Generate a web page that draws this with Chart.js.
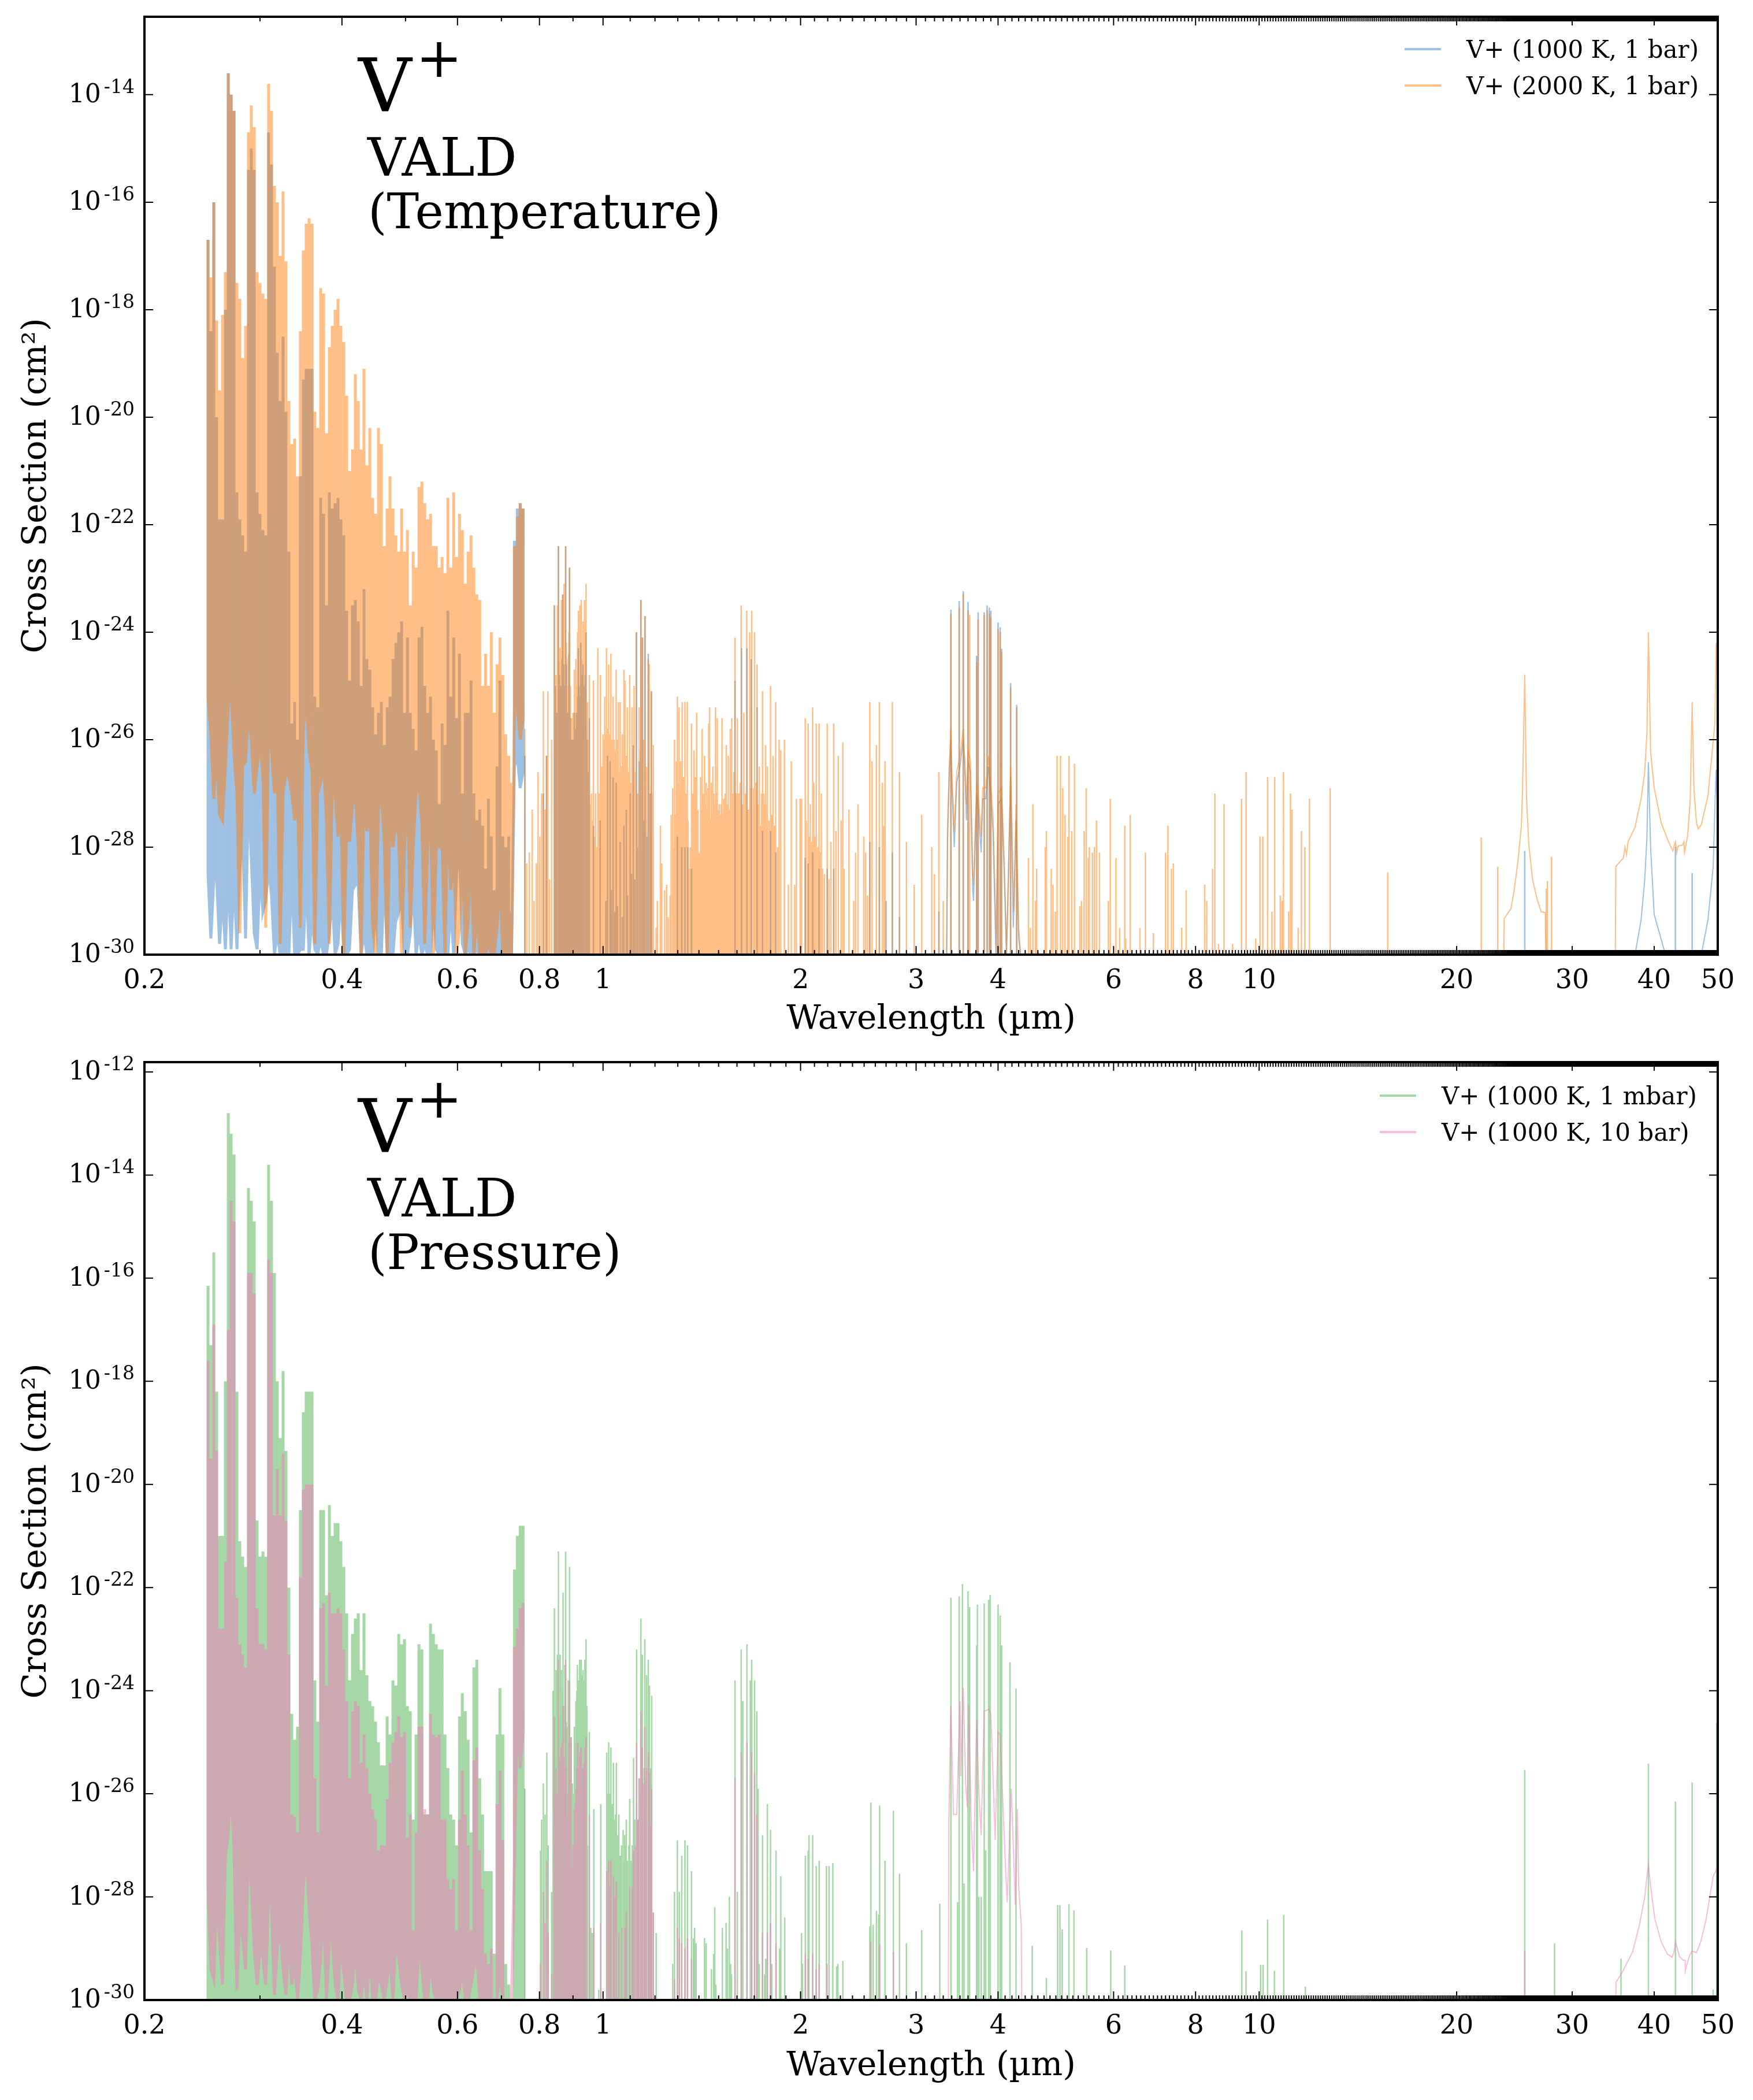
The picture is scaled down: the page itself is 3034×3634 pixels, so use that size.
<!DOCTYPE html>
<html>
<head>
<meta charset="utf-8">
<title>V+ cross sections</title>
<script src="https://cdn.jsdelivr.net/npm/chart.js@4"></script>
<style>
  body { margin: 0; background: #fff; }
  canvas { position: absolute; left: 0; }
  #temperature-chart { top: 0; }
  #pressure-chart { top: 1809px; }
</style>
</head>
<body>
<canvas id="temperature-chart" width="3034" height="1800"></canvas>
<canvas id="pressure-chart" width="3034" height="1825"></canvas>
<script>
// Axis ticks
const xTickLabels = [0.2, 0.4, 0.6, 0.8, 1, 2, 3, 4, 6, 8, 10, 20, 30, 40, 50];
const yTopExponents = [-14, -16, -18, -20, -22, -24, -26, -28, -30];
const yBottomExponents = [-12, -14, -16, -18, -20, -22, -24, -26, -28, -30];

// All cross sections are stored as log10(cm^2)
const FLOOR = -30;

// Crowded UV/optical band: shared wavelengths (um), one column per entry
const bandWl = [
  .25,.2525,.2551,.2577,.2603,.263,.2657,.2684,.2711,.2739,
  .2767,.2795,.2823,.2852,.2881,.291,.294,.297,.3,.3031,
  .3061,.3092,.3124,.3156,.3188,.322,.3253,.3286,.332,.3354,
  .3388,.3422,.3457,.3493,.3528,.3564,.3601,.3637,.3674,.3712,
  .375,.3788,.3827,.3866,.3905,.3945,.3985,.4026,.4067,.4108,
  .415,.4192,.4235,.4278,.4322,.4366,.4411,.4456,.4501,.4547,
  .4593,.464,.4688,.4735,.4784,.4833,.4882,.4932,.4982,.5033,
  .5084,.5136,.5188,.5241,.5295,.5349,.5403,.5458,.5514,.557,
  .5627,.5685,.5743,.5801,.586,.592,.5981,.6042,.6103,.6166,
  .6228,.6292,.6356,.6421,.6487,.6553,.662,.6687,.6755,.6824,
  .6894,.6964,.7035,.7107,.718,.7253,.7327,.7402,.7477,.7553
];
const t2000BandPeak = [
  -16.7,-17.4,-16,-18.2,-19.5,-18.1,-17.3,-13.6,-14,-14.3,
  -17.5,-17.8,-18.9,-18.3,-14.7,-14.2,-14.6,-17.3,-17.5,-17.7,
  -17.8,-13.8,-14.3,-15.7,-16,-17,-15.8,-17.1,-19.7,-20.5,
  -20.4,-21.1,-18.4,-16.9,-16.4,-16.3,-16.4,-19.9,-20.2,-17.6,
  -17.7,-20.3,-18.7,-18.3,-18,-17.8,-18.3,-18.6,-19.6,-21,
  -20.6,-19.2,-19.7,-20.6,-19.1,-20.9,-20.2,-21.5,-21.8,-20.2,
  -20.5,-22.4,-21.7,-21.1,-21.7,-22.2,-22.5,-21.7,-22.5,-22.1,
  -23.5,-22.5,-22.8,-21.3,-21.2,-21.6,-21.9,-21.8,-22.4,-22.4,
  -22.8,-22.6,-22.9,-21.5,-22.8,-21.4,-22.6,-21.8,-22.1,-23.1,
  -22.5,-22.2,-22.8,-23.3,-23.4,-25,-24.4,-25,-24,-25.5,
  -24.6,-24.1,-24.8,-25.9,-26.3,-26.8,-22.4,-21.85,-21.6,-21.7
];
const t2000BandBase = [
  -25.2,-25.9,-27.1,-26.2,-27.4,-27.5,-26.5,-25.4,-25,-26.3,
  -27,-29.6,-26.5,-26.4,-25.5,-26,-27,-26.5,-26,-26.7,
  -29.5,-25.8,-26.2,-27,-26.6,-29.8,-27,-26.6,-26.7,-27,
  -27.5,-27,-29.5,-25.8,-25.2,-26.2,-26.6,-29.8,-27,-26.8,
  -26.4,-27.5,-29.8,-26.8,-27,-27.8,-27.2,-30,-27.6,-27.9,
  -27.2,-27,-28,-30,-27.1,-27.7,-27.2,-29.5,-30,-27.3,
  -27,-27.9,-30,-27.5,-28,-27.5,-27.8,-30,-28,-26.9,
  -29.5,-28,-27,-26.8,-27.6,-29.8,-28,-27.4,-30,-28,
  -28,-28,-30,-27.2,-28.8,-28,-30,-29.5,-28,-30,
  -29.4,-28,-30,-29.2,-30,-30,-30,-29.8,-30,-30,
  -29.5,-28.6,-30,-30,-30,-30,-25.3,-25.4,-26,-25.6
];
const t1000BandPeak = [
  -16.7,-18.4,-16,-20,-21.9,-21.9,-18,-13.6,-14,-14.3,
  -21.4,-21.9,-22.2,-22.5,-15.4,-15,-15.4,-21.4,-21.8,-22.1,
  -22.2,-14.7,-15.3,-17.2,-18.8,-19.7,-18.5,-19.9,-22.5,-25.7,
  -25.3,-26,-21.1,-19.3,-19.1,-19.1,-19.1,-25.2,-25.4,-21.5,
  -21.8,-23.5,-21.4,-21.7,-21.6,-21.5,-21.9,-22.2,-23.6,-24.9,
  -23.5,-23.4,-23.8,-25,-23.2,-24.5,-24.7,-25.4,-25.9,-25.5,
  -25.3,-26.1,-25.4,-25.2,-24.5,-24.2,-24,-23.8,-25.5,-24.1,
  -25.5,-25.8,-26.2,-24.1,-23.9,-25,-25.5,-25.2,-26,-26.2,
  -27.2,-25.7,-26.1,-23.6,-25.2,-24.1,-25.6,-24.4,-27,-25.5,
  -25.5,-24.9,-27,-27.5,-27.3,-27.6,-28.4,-27.1,-27.8,-28.8,
  -26.5,-24.9,-27.8,-28,-27.8,-29.2,-22.3,-21.7,-21.6,-21.7
];
const t1000BandBase = [
  -28.5,-29.7,-28.6,-28.6,-29.8,-28.9,-29.9,-28.5,-29.9,-28.5,
  -29.9,-28.4,-27.6,-29.7,-27,-28.2,-29.6,-29.9,-28.5,-29.2,
  -29,-28.4,-28.9,-30,-29.6,-30,-30,-30,-30,-28.5,
  -30,-30,-29.9,-29.9,-28.6,-30,-29.3,-29.9,-30,-29.7,
  -30,-30,-29.6,-28.9,-30,-29.8,-28.8,-30,-30,-29.9,
  -28.8,-28.7,-28.7,-30,-29.6,-30,-30,-30,-29,-30,
  -30,-28.5,-30,-30,-30,-29.3,-29.2,-29,-30,-30,
  -29.6,-28.7,-30,-29.6,-30,-29.8,-30,-30,-29,-29.9,
  -30,-30,-30,-30,-29.1,-30,-28.5,-28,-29.8,-30,
  -29.9,-30,-30,-29.9,-30,-30,-30,-30,-30,-30,
  -30,-30,-30,-30,-30,-30,-26.5,-26.3,-26.9,-26.6
];
const mbarBandPeak = [
  -16.15,-17.3,-15.5,-18.2,-21,-21,-18,-12.8,-13.2,-13.6,
  -18.2,-21.1,-21.4,-21.6,-14.25,-14.5,-14.9,-20.7,-21.4,-21.3,
  -21.4,-13.8,-14.5,-15.9,-18,-19.1,-17.8,-19.35,-22,-24.45,
  -24.95,-24.7,-20.5,-18.6,-18.2,-18.2,-18.2,-23.8,-24.6,-20.5,
  -20.5,-22.15,-20.4,-21,-20.75,-20.75,-21.1,-21.6,-22.5,-23.8,
  -22.9,-22.6,-22.5,-23.6,-22.5,-23.7,-24.2,-24.3,-24.6,-25,
  -25.45,-25.45,-24.5,-24.85,-23.8,-23.9,-22.9,-23.1,-23,-24.3,
  -24.4,-26.5,-24.85,-23.1,-23.2,-26.4,-26.4,-22.7,-22.9,-23.1,
  -23.2,-23.2,-24.85,-25.5,-26.4,-26.5,-27,-24.5,-24.05,-24.4,
  -24.95,-26.75,-23.55,-23.4,-25.7,-26.4,-27.5,-27.5,-27.5,-29.1,
  -24.85,-23.95,-24.85,-29.3,-29.7,-30,-21.65,-21,-20.8,-20.8
];
const tenBarBandPeak = [
  -17.6,-19.5,-16.9,-19.35,-22.8,-22.8,-21.5,-17,-14.5,-14.9,
  -22.2,-23.1,-23.3,-23.55,-15.9,-15.9,-16.3,-22.4,-23.1,-23.1,
  -23.2,-15.65,-15.9,-20.6,-19.7,-20.6,-19.4,-20.7,-23.3,-26.4,
  -26.45,-26.75,-21.8,-20.1,-20,-20,-20,-25.7,-26.75,-22.4,
  -22.3,-23.9,-22.1,-22.5,-22.5,-22.4,-22.5,-23.2,-24.2,-25.7,
  -24.4,-24.2,-24.3,-25.4,-24.85,-25.5,-26,-26.3,-26.5,-27.1,
  -27,-27,-26.1,-25.4,-25,-24.8,-24.5,-24.9,-24.8,-26.85,
  -26.4,-28.65,-26.75,-24.7,-24.7,-26.3,-26.4,-24.45,-24.85,-24.9,
  -24.85,-26.5,-26.5,-27.65,-27.85,-27.65,-28.65,-26.5,-25.55,-26.4,
  -27,-28.65,-25.35,-25.1,-27.1,-27.85,-29.1,-29.3,-29,-30,
  -26.2,-25.55,-26.9,-30,-30,-30,-23.15,-22.8,-22.4,-22.3
];
const tenBarBandBase = [
  -27.8,-29.4,-29.6,-28,-28.8,-29.7,-27.2,-26.8,-25.8,-27.2,
  -29.8,-28.4,-28.8,-29.4,-27,-27.8,-29,-29.7,-29,-29.2,
  -29.7,-28,-28.2,-29.9,-29,-28.6,-29.4,-29.9,-28.8,-29.7,
  -29.2,-30,-29.2,-27.8,-27.2,-28.2,-29,-30,-29.8,-29.2,
  -28.2,-30,-28.9,-28.8,-29.7,-30,-28.8,-29.5,-30,-30,
  -29.7,-29,-29.8,-30,-29.4,-30,-29,-30,-30,-29.5,
  -29.7,-30,-29.6,-29.2,-30,-28.8,-29.2,-29.7,-30,-29.8,
  -30,-30,-30,-28.9,-29.4,-30,-30,-29.2,-29.8,-30,
  -30,-30,-30,-30,-30,-30,-30,-29.8,-29.4,-30,
  -30,-29.7,-29.4,-29.1,-30,-30,-30,-30,-30,-30,
  -30,-29.4,-30,-30,-30,-30,-27.3,-24.4,-25.5,-24.8
];

// Resolved lines beyond the crowded band
const t2000LineWl = [
  .76,.765,.772,.78,.785,.791,.796,.801,.806,.811,.816,.82,.824,.829,.835,.843,.848,.852,.855,.86,
  .864,.868,.872,.877,.881,.885,.889,.894,.898,.904,.909,.914,.917,.922,.926,.932,.937,.942,.947,.953,
  .96,.967,.974,.982,.991,1.006,1.012,1.02,1.028,1.036,1.047,1.055,1.062,1.07,1.076,1.08,1.089,1.098,1.107,1.115,
  1.123,1.135,1.142,1.147,1.158,1.165,1.172,1.176,1.185,1.193,1.205,1.21,1.223,1.229,1.241,1.25,1.257,1.265,1.27,1.277,
  1.285,1.293,1.298,1.306,1.313,1.32,1.333,1.344,1.351,1.364,1.376,1.389,1.402,1.408,1.416,1.428,1.436,1.449,1.453,1.462,
  1.47,1.484,1.493,1.504,1.518,1.527,1.541,1.552,1.563,1.571,1.589,1.602,1.624,1.639,1.656,1.673,1.685,1.702,1.717,1.73,
  1.75,1.769,1.78,1.8,1.816,1.833,1.855,1.866,1.89,1.916,1.936,1.959,1.971,1.997,2.007,2.033,2.054,2.069,2.087,2.095,
  2.113,2.134,2.151,2.196,2.247,2.264,2.283,2.306,2.32,2.33,2.37,2.41,2.426,2.447,2.497,2.513,2.53,2.55,2.57,2.61,
  2.637,2.665,2.68,2.69,2.76,2.83,2.9,2.98,3.06,3.17,3.2,3.25,3.3,3.39,3.49,3.54,3.6,3.62,3.71,3.73,
  3.81,3.85,3.88,3.9,4,4.03,4.05,4.18,4.27,4.45,4.48,4.52,4.56,4.58,4.72,4.74,4.82,4.85,4.89,4.92,
  4.98,5.02,5.06,5.11,5.13,5.18,5.23,5.33,5.36,5.41,5.45,5.49,5.51,5.57,5.61,5.65,5.71,5.89,5.93,6.05,
  6.13,6.24,6.26,6.36,6.58,6.71,6.9,7.2,7.26,7.35,7.4,7.62,7.74,8.26,8.32,8.49,8.56,8.67,8.84,9.11,
  9.4,9.55,9.88,10.03,10.13,10.3,10.46,10.56,10.77,10.84,10.89,11.09,11.16,11.22,11.47,11.6,11.74,11.93,12.83,15.7,
  21.8,23.1,27.4,27.5,27.9
];
const t2000LinePeak = [
  -25.8,-28.3,-28.1,-27.3,-29,-28.3,-26.6,-27.8,-27,-25.1,-27.3,-26.3,-25.1,-28.6,-26,-23.5,-24.8,-23.5,-22.4,-24.3,
  -23.4,-23.3,-23.1,-22.4,-24.5,-25,-22.8,-26.1,-25.9,-24.7,-24.5,-24,-23.6,-23.5,-23.4,-23.8,-23.4,-23.1,-25.3,-24.8,
  -27,-24.9,-27,-24.3,-24.8,-25.2,-24.3,-24.6,-24.4,-25.2,-24.7,-25.3,-25.3,-25.9,-24.7,-24.9,-25.4,-24.8,-25.4,-25,
  -24,-25.4,-23.4,-24.1,-23.7,-26.5,-24.5,-24.6,-25.1,-26.1,-29.5,-29,-27.6,-28.3,-28.8,-28.7,-29.3,-28.9,-27.4,-26.9,
  -26,-26.4,-25.2,-25.4,-26.4,-25.3,-25.3,-25.3,-28.4,-25.7,-26.2,-25.5,-28.1,-26.7,-25.8,-26.3,-26.8,-25.7,-25.4,-26.8,
  -26.5,-25.4,-25.6,-27.2,-25.6,-27.1,-26.1,-26.3,-25.8,-25.6,-24.1,-25.6,-23.5,-25.5,-23.6,-24,-23.6,-24,-24.6,-26.5,
  -25.1,-26.1,-26.5,-25,-26.3,-25.3,-26,-26.2,-26,-28.7,-26.4,-28.7,-27.1,-27.1,-27.1,-25.6,-25.7,-27.2,-25.4,-26.8,
  -25.7,-25.7,-27,-25.7,-25.7,-27.7,-26.3,-27.5,-26.05,-28.4,-27.3,-29,-28.1,-27.2,-27.8,-28.1,-28.9,-25.3,-26.4,-26.1,
  -25.3,-26.8,-27.6,-26.4,-25.3,-26.6,-27.9,-28.7,-27.4,-28,-28.5,-26.6,-29,-23.66,-23.54,-23.29,-23.59,-23.68,-24.56,-23.76,
  -23.68,-23.6,-23.66,-23.73,-23.94,-24,-24.37,-25.03,-25.4,-28.2,-29.5,-27.2,-29,-28.4,-28,-27.7,-28.4,-28.7,-29.2,-26.3,
  -26.3,-26.9,-27.4,-27.8,-26.3,-27.7,-26.45,-29.1,-29,-27.7,-26.9,-28.2,-28,-28.1,-28,-27.5,-28.1,-29,-27.1,-28.2,
  -29.5,-27.6,-29.7,-27.4,-29.5,-28.1,-29.6,-28.1,-27.6,-28.4,-28.3,-29.5,-28.8,-28.7,-29,-28.4,-27,-29.8,-27.2,-29.8,
  -27.1,-26.6,-29.7,-27.8,-27.8,-26.7,-29.2,-26.7,-28.9,-29,-26.6,-29.2,-27,-27.3,-29.5,-27.7,-28,-27.1,-26.9,-28.47,
  -27.82,-28.36,-28.77,-28.63,-28.18
];
// Weaker lines packed between the strong ones
const t2000WeakWl = [
  .846,.85,.858,.862,.866,.871,.875,.879,.883,.887,.892,.896,.9,.907,.911,.915,.919,.924,.928,.93,
  .935,.94,.945,.95,.955,.964,.97,.978,.986,.995,1,1.003,1.009,1.015,1.018,1.024,1.032,1.04,1.044,1.05,
  1.058,1.066,1.073,1.084,1.093,1.102,1.11,1.119,1.129,1.138,1.153,1.162,1.18,1.19,1.28,1.289,1.302,1.31,1.317,1.326,
  1.338,1.348,1.358,1.37,1.382,1.395,1.412,1.422,1.432,1.441,1.445,1.457,1.466,1.475,1.479,1.488,1.498,1.51,1.514,1.522,
  1.535,1.546,1.558,1.567,1.576,1.583,1.595,1.61,1.618,1.632,1.648,1.665,1.68,1.695,1.71,1.725,1.738,1.744,1.757,1.763,
  1.775,1.79,1.808,1.825,1.845,2.04,2.06,2.08,2.105,2.125,2.143,2.16,2.175,2.21,2.225
];
const t2000WeakPeak = [
  -24.8,-25,-24.5,-24.7,-24.2,-24.3,-24.6,-24.2,-25,-24,-25,-25.6,-25.5,-25.5,-25,-25,-24.6,-24.8,-24.5,-24.7,
  -24.8,-24.5,-25.8,-26,-27.2,-27.5,-27.8,-28,-27,-26.5,-25.9,-26,-25.9,-25.8,-26,-25.9,-26,-26,-26.2,-26,
  -26.6,-26.5,-26.4,-26.3,-26.6,-26.8,-26.5,-26.6,-27,-26.2,-26,-27,-27,-27,-28,-27.4,-26.8,-27,-26.8,-26.7,
  -27,-27.5,-28,-27,-26.7,-27.3,-27.3,-27,-27.2,-27.3,-26.9,-27.5,-27.4,-27,-27.2,-27,-27.3,-27.4,-27.2,-27.4,
  -27,-27.2,-27.3,-27.2,-27,-26.6,-27,-27,-26.8,-27.2,-27,-27.3,-26.9,-26.9,-26.8,-27.2,-27.6,-27,-27,-27.2,
  -27.2,-27.5,-27.4,-27.6,-28,-27.5,-27.8,-27.9,-27.8,-28,-28.1,-28.4,-28.5,-28.6,-27.9
];
const t1000LineWl = [
  .76,.811,.82,.843,.855,.868,.877,.889,.894,.904,.917,.925,.932,.942,.953,.967,.99,1.016,1.025,1.036,
  1.047,1.062,1.076,1.085,1.1,1.112,1.125,1.135,1.142,1.149,1.159,1.172,1.185,1.298,1.318,1.333,1.346,1.364,1.589,1.626,
  1.657,1.682,1.717,1.75,1.8,1.834,2.033,2.054,2.087,2.134,2.196,2.247,2.55,2.637,2.7,2.76,2.83,3.25,3.39,3.49,
  3.54,3.6,3.71,3.73,3.81,3.85,3.88,3.9,4,4.03,4.05,4.18,4.27,25.4,43.1,45.7
];
const t1000LinePeak = [
  -26.3,-27,-26.3,-23.5,-22.4,-23.3,-22.4,-22.8,-26.1,-25.5,-24.3,-24.2,-24.6,-24,-25.6,-27.6,-27.5,-26.3,-26.4,-26.7,
  -26.8,-27.9,-27.6,-27.3,-27,-26.1,-24,-26.4,-23.4,-24.1,-23.7,-24.4,-25.1,-27.8,-28,-28,-28,-28.4,-24.9,-24.3,
  -24.3,-24.5,-25.4,-27.7,-27.7,-28.1,-28.2,-28.3,-28.1,-28.4,-28.4,-28.4,-27.9,-28,-29,-28.1,-29.3,-29.2,-23.58,-23.42,
  -23.24,-23.44,-24.44,-23.63,-23.63,-23.5,-23.54,-23.6,-23.82,-23.91,-24.31,-24.95,-25.35,-28.07,-27.99,-28.48
];
const t1000WeakWl = [
  .846,.85,.858,.862,.866,.871,.875,.879,.883,.887,.892,.896,.9,.907,.911,.915,.919,.923,.928,.93,
  .935,.94,.945,.95,1.01,1.03,1.042,1.052,1.07,1.09,1.105,1.118,1.128,1.153,1.166,1.18
];
const t1000WeakPeak = [
  -25,-25.5,-24.8,-25,-24.5,-24.6,-25,-24.6,-25.5,-24.4,-25.6,-26,-26,-25.8,-25.5,-25.2,-25,-25.2,-24.8,-25,
  -25,-24.8,-26,-26.6,-29,-28.8,-29.2,-29.1,-29.3,-28.9,-28.5,-28.6,-28,-27.5,-27.8,-27
];
const mbarLineWl = [
  .76,.803,.806,.811,.816,.821,.825,.835,.839,.843,.848,.852,.855,.86,.864,.869,.874,.877,.881,.885,
  .889,.894,.898,.904,.909,.914,.921,.926,.932,.938,.942,.947,.953,.958,.963,.968,.985,.992,1.013,1.02,
  1.028,1.037,1.045,1.048,1.057,1.062,1.073,1.079,1.085,1.089,1.098,1.104,1.113,1.118,1.125,1.135,1.142,1.148,1.158,1.165,
  1.172,1.177,1.186,1.193,1.205,1.277,1.285,1.298,1.307,1.318,1.333,1.345,1.364,1.373,1.379,1.386,1.428,1.436,1.463,1.474,
  1.48,1.486,1.52,1.54,1.548,1.558,1.565,1.57,1.589,1.602,1.624,1.633,1.657,1.677,1.685,1.702,1.715,1.723,1.73,1.75,
  1.763,1.77,1.78,1.8,1.808,1.835,1.858,1.866,1.892,2.007,2.014,2.034,2.054,2.06,2.087,2.113,2.135,2.19,2.21,2.24,
  2.27,2.28,2.32,2.55,2.56,2.58,2.61,2.63,2.64,2.69,2.77,2.83,2.9,3.06,3.26,3.39,3.47,3.49,3.53,3.55,
  3.6,3.62,3.71,3.72,3.74,3.77,3.81,3.83,3.87,3.89,4,4.03,4.05,4.17,4.26,4.51,4.74,4.93,4.97,5.01,
  5.13,5.22,5.46,5.94,6.24,9.41,9.55,10.05,10.14,10.3,10.55,10.9,11.76,25.4,28.2,35.6,39.2,43.1,45.7,49.2,
  49.8
];
const mbarLinePeak = [
  -25.9,-27.1,-26.5,-25.8,-26.4,-25.2,-27,-27.9,-24,-22.4,-23.6,-23.3,-21.3,-23.3,-23.6,-22.1,-23.5,-21.3,-24.7,-23.8,
  -21.6,-24.9,-25.8,-24.7,-24.2,-23.5,-23.4,-23.4,-23.6,-23.4,-23,-27,-24.8,-28.6,-28.7,-26.3,-29.8,-26.2,-25.2,-25,
  -25.1,-25.4,-26.4,-25.4,-26.4,-27.2,-26.7,-26.8,-26.5,-27.3,-26.1,-27.3,-25.3,-26.5,-23.2,-25.7,-22.6,-23.3,-23,-23.7,
  -23.4,-23.9,-24.1,-28.3,-28.7,-29.3,-27.9,-26.9,-27.9,-27.2,-26.9,-27,-27.5,-28.8,-28.6,-28.9,-28.8,-28.9,-29.4,-29.1,
  -28.2,-29.7,-28.6,-28.5,-29,-28,-29.3,-29.5,-23.8,-27.9,-23.2,-24.2,-23.1,-23.8,-23.4,-23.8,-24.4,-25.9,-29.3,-26.8,
  -29.5,-29.2,-26.2,-26.7,-29.3,-27.1,-29,-27.6,-28.4,-28.7,-29.3,-27.2,-27.1,-26.8,-26.8,-27.4,-27.3,-27.4,-27.4,-27.34,
  -29.35,-29.3,-29.24,-28.57,-26.17,-28.54,-28.27,-28.34,-26.23,-27.3,-26.33,-27.55,-28.9,-28.64,-28.13,-22.2,-28.1,-22.17,-21.93,-27.74,
  -22.07,-22.38,-23.12,-22.33,-28,-28,-22.31,-27.1,-22.24,-22.14,-22.33,-22.54,-23.12,-23.45,-23.96,-28.95,-29.57,-28.16,-28.16,-28.63,
  -28.14,-28.26,-28.99,-29.04,-29.33,-28.65,-29.44,-29.32,-29.32,-28.44,-29.43,-28.35,-29.74,-25.54,-28.9,-29.2,-25.42,-26.15,-25.78,-29.8,
  -24.63
];
const mbarWeakWl = [
  .846,.85,.858,.862,.866,.871,.875,.879,.883,.887,.892,.896,.9,.907,.911,.912,.916,.919,.923,.928,
  .93,.935,.94,.945,1.015,1.024,1.032,1.041,1.052,1.067,1.076,1.082,1.095,1.108,1.13,1.155,1.162,1.18
];
const mbarWeakPeak = [
  -24.5,-24.8,-24.5,-24.5,-24,-24.3,-24.2,-24.6,-25.2,-24.8,-25,-26,-26,-25,-24.4,-24,-23.8,-23.8,-23.7,-23.7,
  -23.9,-23.8,-23.7,-24.3,-26,-26,-26.2,-26.5,-26.8,-27,-27.3,-27,-27,-27,-26.5,-25.5,-25.7,-25.5
];
const tenBarLineWl = [
  .803,.811,.816,.821,.825,.835,.842,.848,.855,.863,.869,.877,.885,.889,.894,.898,.904,.909,.915,.921,
  .926,.932,.938,.942,.953,.968,.992,1.013,1.02,1.028,1.037,1.048,1.057,1.085,1.098,1.113,1.125,1.135,1.142,1.148,
  1.158,1.165,1.172,1.177,1.186,1.193,1.285,1.298,1.307,1.318,1.333,1.345,1.364,1.589,1.624,1.657,1.685,1.702,1.715,1.75,
  1.78,1.8,1.835,2.034,2.054,2.087,2.113,2.135,2.196,2.56,2.64,2.77,25.4
];
const tenBarLinePeak = [
  -29.3,-27.9,-28.5,-27.3,-28.7,-29.5,-24.5,-25.5,-23.4,-25.1,-24.3,-23.4,-26,-23.8,-24.9,-27.4,-26.3,-25.9,-25,-25.2,
  -25.1,-25.5,-25.1,-24.9,-26.4,-28.6,-28.5,-27.5,-27.3,-27.3,-27.6,-27.7,-28.7,-28.3,-27.8,-27.1,-25,-25.7,-24.4,-25.1,
  -24.7,-25.5,-25.2,-25.6,-25.9,-28.3,-29.6,-28.6,-28.8,-28.9,-29,-28.8,-29.2,-25.7,-25.2,-25,-25.2,-25.6,-26.4,-28.7,
  -28.7,-28.5,-28.9,-29.1,-29.2,-29.1,-29.4,-29.3,-29.3,-28.86,-28.92,-29.06,-29.05
];
const tenBarWeakWl = [
  .846,.85,.858,.866,.871,.875,.879,.883,.887,.892,.896,.9,.907,.912,.918,.923,.928,.935,.94,1.024,
  1.042,1.068,1.08,1.108,1.12,1.13,1.138,1.153,1.162,1.18
];
const tenBarWeakPeak = [
  -26,-26,-25.3,-25,-25.3,-25.5,-25.5,-26.5,-25,-26.3,-27.5,-27,-26.2,-25.5,-25.5,-25.4,-25.5,-25.4,-25.3,-27.8,
  -28,-28.6,-28.6,-27.8,-27,-26.5,-26,-25.8,-26.3,-26.6
];

// Pressure broadened wings around the infrared lines
const t2000WingWl = [
  3.34,3.35,3.37,3.39,3.4,3.43,3.46,3.5,3.54,3.56,3.58,3.6,3.63,3.66,3.67,3.71,3.73,3.77,3.79,3.83,
  3.87,3.93,3.98,4,4.05,4.09,4.12,4.15,4.18,4.23,4.24,4.26,4.3,4.33,23.6,23.63,24.2,24.45,24.8,25.1,
  25.2,25.4,25.55,25.75,26.1,26.5,26.9,27.3,27.35,34.9,34.96,35.9,36.1,36.3,36.5,37.4,38.2,38.7,39,39.2,
  39.5,40,41,42,42.7,43.1,43.3,43.5,44.2,44.4,44.5,45,45.4,45.7,46,46.4,46.7,47.2,48.3,49.5,
  49.7,50
];
const t2000WingLog = [
  -30,-27.6,-26.5,-25.8,-26.5,-27.7,-26.6,-26.3,-25.8,-26.4,-27.2,-26.2,-26.4,-28.5,-28.7,-26.8,-27,-27.8,-26.9,-26.9,
  -26.3,-27.4,-30,-27,-26.9,-28.3,-30,-28.6,-26.5,-29.2,-28.6,-27.2,-29.5,-30,-30,-29.33,-29.14,-28.84,-28.26,-27.6,
  -26.94,-24.79,-27.05,-27.93,-28.6,-28.95,-29.2,-29.22,-30,-30,-28.36,-28.2,-28,-28.14,-27.9,-27.63,-27.1,-26.6,-25.85,-24,
  -26.23,-26.9,-27.55,-27.88,-28.07,-27.9,-28.1,-27.98,-27.96,-27.9,-28.1,-27.77,-27.1,-25.3,-26.94,-27.55,-27.66,-27.58,-27.05,-25.7,
  -24.2,-25.2
];
const t1000WingWl = [
  3.34,3.35,3.37,3.39,3.4,3.43,3.46,3.5,3.54,3.56,3.58,3.6,3.63,3.66,3.67,3.71,3.73,3.77,3.79,3.83,
  3.87,3.93,3.97,4,4.05,4.09,4.12,4.18,4.22,4.26,4.3,4.33,37.4,38.2,38.7,39,39.2,39.5,40,41.4,
  41.5,47.2,48.3,49.2,49.7,50
];
const t1000WingLog = [
  -30,-27.9,-26.7,-26,-26.8,-28,-26.8,-26.5,-26,-26.6,-27.5,-26.4,-26.6,-28.8,-29,-27,-27.3,-28.1,-27.1,-27.1,
  -26.5,-27.7,-30,-27.2,-27.1,-28.6,-30,-26.7,-29.5,-27.5,-29.7,-30,-30,-29.36,-28.6,-27.8,-26.42,-28,-29.25,-29.9,
  -30,-30,-29.36,-28.37,-26.56,-27.4
];
const tenBarWingWl = [
  3.36,3.365,3.39,3.42,3.46,3.5,3.51,3.54,3.57,3.59,3.61,3.64,3.67,3.71,3.74,3.77,3.81,3.87,3.9,3.96,
  4,4.03,4.08,4.11,4.13,4.19,4.25,4.28,4.3,4.34,4.345,34.95,35,35.7,37.1,38,38.7,39,39.2,39.5,
  40.1,41,41.9,42.6,42.9,43.1,43.7,44.3,44.6,44.61,45.2,45.7,46.4,47.1,48,49.2,49.8,50
];
const tenBarWingLog = [
  -30,-26.57,-24.3,-26.4,-26.4,-24.2,-25.66,-23.95,-25.8,-26.26,-24.28,-26.6,-27.5,-24.57,-26,-26.8,-24.4,-24.36,-24.45,-26.9,
  -24.8,-24.86,-26.6,-27.54,-28.1,-25.9,-28.15,-26.3,-27.8,-28.57,-30,-30,-29.65,-29.48,-29.06,-28.53,-28,-27.6,-27.37,-27.8,
  -28.43,-28.87,-29.11,-29.17,-29.06,-28.86,-29.16,-29.23,-29.23,-29.44,-29.16,-29.05,-29.08,-28.87,-28.43,-27.6,-27.46,-27.6
];

const BLUE = 'rgba(60, 130, 200, 0.5)';
const ORANGE = 'rgba(255, 127, 14, 0.5)';
const GREEN = 'rgba(44, 160, 44, 0.42)';
const PINK = 'rgba(242, 124, 185, 0.5)';
const SERIF = '"DejaVu Serif"';

Chart.defaults.font.family = SERIF;
Chart.defaults.color = '#000';

// Vertical strokes from base up to peak, walking along the base between lines
function lineColumns(wl, peak, base) {
  const pts = [];
  wl.forEach((x, i) => {
    const b = Math.pow(10, base ? base[i] : FLOOR);
    pts.push({ x: x, y: b });
    pts.push({ x: x, y: Math.pow(10, peak[i]) });
    pts.push({ x: x, y: b });
  });
  return pts;
}

// Strong and weak lines go in one path, in wavelength order
function mergedLines(wl, peak, weakWl, weakPeak) {
  const rows = wl.map((x, i) => [x, peak[i]])
    .concat(weakWl.map((x, i) => [x, weakPeak[i]]))
    .sort((a, b) => a[0] - b[0]);
  return lineColumns(rows.map(r => r[0]), rows.map(r => r[1]));
}

function curve(wl, logs) {
  return wl.map((x, i) => ({ x: x, y: Math.pow(10, logs[i]) }));
}

function strokeSet(label, color, width, data) {
  return {
    label: label,
    data: data,
    borderColor: color,
    borderWidth: width,
    pointRadius: 0,
    tension: 0,
    clip: 0,
    fill: false
  };
}

// Spines, inward ticks, exponent labels, legend and the panel captions
const panelDecor = {
  id: 'panelDecor',
  afterDatasetsDraw(chart, args, opts) {
    const ctx = chart.ctx;
    const a = chart.chartArea;
    const xs = chart.scales.x;
    const ys = chart.scales.y;
    ctx.save();
    ctx.strokeStyle = '#000';
    ctx.fillStyle = '#000';

    // x ticks every 0.1 um, longer where labelled
    ctx.lineWidth = 2;
    ctx.beginPath();
    xs.ticks.forEach(t => {
      const x = xs.getPixelForValue(t.value);
      const len = xTickLabels.includes(+t.value.toFixed(1)) ? 15 : 8;
      ctx.moveTo(x, a.bottom); ctx.lineTo(x, a.bottom - len);
      ctx.moveTo(x, a.top); ctx.lineTo(x, a.top + len);
    });
    opts.exponents.forEach(e => {
      const y = ys.getPixelForValue(Math.pow(10, e));
      ctx.moveTo(a.left, y); ctx.lineTo(a.left + 15, y);
      ctx.moveTo(a.right, y); ctx.lineTo(a.right - 15, y);
    });
    ctx.stroke();

    ctx.lineWidth = 4;
    ctx.strokeRect(a.left, a.top, a.right - a.left, a.bottom - a.top);

    // y tick labels with raised exponent
    ctx.textBaseline = 'alphabetic';
    ctx.textAlign = 'right';
    opts.exponents.forEach(e => {
      const y = ys.getPixelForValue(Math.pow(10, e));
      const exp = String(e);
      ctx.font = '33px ' + SERIF;
      const w = ctx.measureText(exp).width;
      ctx.fillText(exp, 233, y - 3);
      ctx.font = '44px ' + SERIF;
      ctx.fillText('10', 233 - w - 5, y + 13);
    });

    // legend
    ctx.textAlign = 'left';
    ctx.font = '42px ' + SERIF;
    opts.legend.forEach((row, i) => {
      const base = opts.legendTop + i * 63;
      ctx.strokeStyle = row.color;
      ctx.lineWidth = 4;
      ctx.beginPath();
      ctx.moveTo(opts.legendX, base - 15);
      ctx.lineTo(opts.legendX + 63, base - 15);
      ctx.stroke();
      ctx.fillText(row.text, opts.legendX + 107, base);
    });

    // captions
    const d = opts.captionShift;
    ctx.font = '128px ' + SERIF;
    ctx.fillText('V', 620, 192 + d);
    ctx.font = '96px ' + SERIF;
    ctx.textBaseline = 'middle';
    ctx.textAlign = 'center';
    ctx.fillText('+', 760, 108 + d);
    ctx.textBaseline = 'alphabetic';
    ctx.textAlign = 'left';
    ctx.font = '91px ' + SERIF;
    ctx.fillText('VALD', 636, 304 + d);
    ctx.font = '83.3px ' + SERIF;
    ctx.fillText(opts.caption, 637, 395 + d);
    ctx.restore();
  }
};

function makePanel(id, datasets, yMax, decor) {
  return new Chart(document.getElementById(id), {
    type: 'line',
    data: { datasets: datasets },
    plugins: [panelDecor],
    options: {
      responsive: false,
      animation: false,
      devicePixelRatio: 1,
      events: [],
      layout: { padding: { top: decor.top, right: 61, left: 0, bottom: 0 } },
      plugins: {
        legend: { display: false },
        tooltip: { enabled: false },
        panelDecor: decor
      },
      scales: {
        x: {
          type: 'logarithmic',
          min: 0.2,
          max: 50,
          grid: { display: false, drawTicks: false },
          border: { display: false },
          afterBuildTicks(scale) {
            const ticks = [];
            for (let i = 2; i <= 500; i++) ticks.push({ value: i / 10 });
            scale.ticks = ticks;
          },
          afterFit(scale) { scale.height = decor.xAxisHeight; },
          ticks: {
            autoSkip: false,
            minRotation: 0,
            maxRotation: 0,
            padding: 18,
            font: { size: 46 },
            callback(value) {
              const v = +Number(value).toFixed(1);
              return xTickLabels.includes(v) ? String(v) : '';
            }
          },
          title: {
            display: true,
            text: 'Wavelength (\u00b5m)',
            font: { size: 58 },
            padding: { top: 0, bottom: decor.titlePad }
          }
        },
        y: {
          type: 'logarithmic',
          min: 1e-30,
          max: yMax,
          grid: { display: false, drawTicks: false },
          border: { display: false },
          afterFit(scale) { scale.width = 250; },
          ticks: { display: false },
          title: {
            display: true,
            text: 'Cross Section (cm\u00b2)',
            font: { size: 58 },
            padding: { top: 29, bottom: 0 }
          }
        }
      }
    }
  });
}

// Temperature panel
makePanel('temperature-chart', [
  strokeSet('V+ (2000 K, 1 bar)', ORANGE, 5, lineColumns(bandWl, t2000BandPeak, t2000BandBase)),
  strokeSet('V+ (2000 K, 1 bar) lines', ORANGE, 2.5, mergedLines(t2000LineWl, t2000LinePeak, t2000WeakWl, t2000WeakPeak)),
  strokeSet('V+ (2000 K, 1 bar) wings', ORANGE, 2, curve(t2000WingWl, t2000WingLog)),
  strokeSet('V+ (1000 K, 1 bar)', BLUE, 5, lineColumns(bandWl, t1000BandPeak, t1000BandBase)),
  strokeSet('V+ (1000 K, 1 bar) lines', BLUE, 2.5, mergedLines(t1000LineWl, t1000LinePeak, t1000WeakWl, t1000WeakPeak)),
  strokeSet('V+ (1000 K, 1 bar) wings', BLUE, 2, curve(t1000WingWl, t1000WingLog))
], Math.pow(10, -12.55), {
  top: 29,
  xAxisHeight: 148,
  titlePad: 0,
  exponents: yTopExponents,
  caption: '(Temperature)',
  captionShift: 0,
  legendX: 2431,
  legendTop: 100,
  legend: [
    { text: 'V+ (1000 K, 1 bar)', color: BLUE },
    { text: 'V+ (2000 K, 1 bar)', color: ORANGE }
  ]
});

// Pressure panel
makePanel('pressure-chart', [
  strokeSet('V+ (1000 K, 10 bar)', PINK, 5, lineColumns(bandWl, tenBarBandPeak, tenBarBandBase)),
  strokeSet('V+ (1000 K, 10 bar) lines', PINK, 2.5, mergedLines(tenBarLineWl, tenBarLinePeak, tenBarWeakWl, tenBarWeakPeak)),
  strokeSet('V+ (1000 K, 10 bar) wings', PINK, 2, curve(tenBarWingWl, tenBarWingLog)),
  strokeSet('V+ (1000 K, 1 mbar)', GREEN, 5, lineColumns(bandWl, mbarBandPeak)),
  strokeSet('V+ (1000 K, 1 mbar) lines', GREEN, 2.5, mergedLines(mbarLineWl, mbarLinePeak, mbarWeakWl, mbarWeakPeak))
], Math.pow(10, -11.81), {
  top: 29,
  xAxisHeight: 173,
  titlePad: 23,
  exponents: yBottomExponents,
  caption: '(Pressure)',
  captionShift: -8,
  legendX: 2388,
  legendTop: 102,
  legend: [
    { text: 'V+ (1000 K, 1 mbar)', color: GREEN },
    { text: 'V+ (1000 K, 10 bar)', color: PINK }
  ]
});
</script>
</body>
</html>
